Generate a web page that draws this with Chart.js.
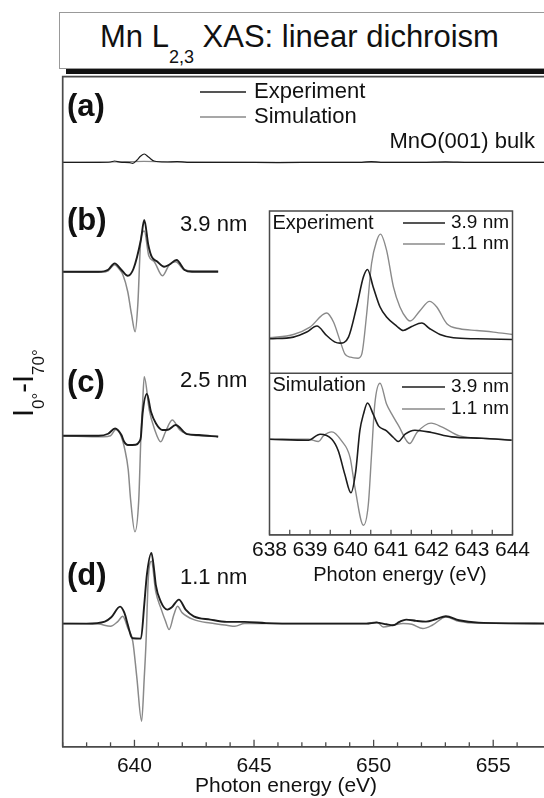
<!DOCTYPE html>
<html>
<head>
<meta charset="utf-8">
<script src="https://cdn.jsdelivr.net/npm/chart.js@4.4.1/dist/chart.umd.min.js"></script>
<style>
  html, body { margin: 0; padding: 0; background: #fff; overflow: hidden; width: 544px; height: 798px; }
  body { position: relative; font-family: "Liberation Sans", Arial, sans-serif; }
  canvas { position: absolute; left: 0; top: 0; }
  #titleBox { position: absolute; left: 59px; top: 12px; width: 600px; height: 55px; border: 1px solid #999; background: #fff; }
  #titleShadow { position: absolute; left: 66px; top: 69px; width: 600px; height: 5px; background: #111; }
  #title { position: absolute; left: 100px; top: 21px; font-size: 31px; line-height: 31px; color: #111; white-space: nowrap; }
  #title span { font-size: 18px; vertical-align: -16px; }
</style>
</head>
<body>
<canvas id="mainChart" width="560" height="798"></canvas>
<canvas id="insetChart" width="560" height="798"></canvas>
<div id="titleBox"></div>
<div id="titleShadow"></div>
<div id="title">Mn L<span>2,3</span> XAS: linear dichroism</div>
<script>
const FONT = '"Liberation Sans", Arial, Helvetica, sans-serif';
Chart.defaults.font.family = FONT;
Chart.defaults.color = '#111';

// main plot: photon energy (eV) / I0 - I70 (arb. units, relative to each panel's baseline)
// (a) MnO(001) bulk
const aExpE = [637, 638.5, 639.0, 639.17, 639.4, 639.8, 639.93, 640.1, 640.25, 640.41, 640.6, 640.82, 641.3, 641.78, 642.2, 644, 646, 648, 649.5, 649.9, 650.3, 652, 653, 654, 657.5];
const aExpI = [0, 0, 0.3, 1.3, 0.2, -0.3, -1, 2, 6, 8.3, 5, 1.3, 0.3, 0.7, 0, 0, -0.3, 0, 0, 0.7, 0, 0, 0.5, 0, 0];
const aSimE = [637, 639.2, 640.4, 641.8, 645, 650, 657.5];
const aSimI = [0, 0.3, 1, 0.3, 0, 0, 0];

// (b) 3.9 nm
const bExpE = [637, 638.5, 638.9, 639.17, 639.45, 639.72, 639.96, 640.27, 640.41, 640.58, 640.72, 640.96, 641.24, 641.45, 641.76, 642.1, 642.4, 643.5];
const bExpI = [0, 0, 2, 8.4, 2, -4, 3, 32, 51.7, 26.7, 15, 10, 5, 7, 11.7, 1.7, 0, 0];
const bSimE = [637, 638.6, 638.9, 639.17, 639.35, 639.52, 639.72, 639.88, 640.03, 640.14, 640.27, 640.41, 640.6, 640.83, 641.17, 641.45, 641.72, 642.1, 642.5, 643.5];
const bSimI = [0, -0.5, 1, 7, 3, -3.3, -20, -43, -60, -33, 33, 40.7, 16, 10, -4, 6.7, 10, 1.7, 0.7, 0.7];

// (c) 2.5 nm
const cExpE = [637, 638.5, 638.9, 639.19, 639.45, 639.57, 639.72, 640.05, 640.2, 640.27, 640.34, 640.52, 640.69, 640.9, 641.17, 641.4, 641.72, 642.2, 642.7, 643.5];
const cExpI = [0, 0, 2, 7.3, 1, -6, -9.3, -9, -6, -1, 22, 41.7, 24, 12.3, 5.7, 6, 10.7, 1.7, 0.7, -1];
const cSimE = [637, 638.7, 639.0, 639.22, 639.4, 639.6, 639.74, 639.84, 640.02, 640.18, 640.27, 640.34, 640.41, 640.62, 640.83, 641.1, 641.3, 641.58, 641.9, 642.4, 643.5];
const cSimI = [0, -1, 0, 6.3, 2, -14, -34, -64, -96, -64, -1, 32, 59, 25.7, 7.3, -6, 4, 15.7, 5.7, 0.7, -0.5];

// (d) 1.1 nm
const dExpE = [637, 638.0, 638.76, 639.03, 639.40, 639.58, 639.72, 639.86, 639.93, 640.27, 640.41, 640.52, 640.71, 640.83, 640.89, 641.1, 641.38, 641.55, 641.86, 642.14, 642.48, 643.17, 643.86, 644.6, 645.5, 647, 649.7, 650.13, 650.53, 650.81, 651.08, 651.36, 651.78, 652.19, 652.6, 653.02, 653.57, 654.39, 657.5];
const dExpI = [0, 0, 2, 6.3, 17, 10.7, -1, -12.7, -14.7, -15, 19, 49, 70.7, 52, 39, 22, 14, 16, 24, 14, 7.3, 4, 1.7, 1.7, 0.5, 0, 0, 1, -0.7, -1.7, 1.7, 4, 2.7, 2, 4.3, 7.3, 3.3, 1, 0];
const dSimE = [637, 638.5, 639.0, 639.3, 639.51, 639.72, 639.93, 640.1, 640.3, 640.41, 640.48, 640.58, 640.71, 640.89, 641.1, 641.3, 641.45, 641.65, 641.8, 642.0, 642.48, 643.17, 643.86, 644.2, 644.6, 645.5, 649.7, 650.13, 650.4, 650.81, 651.23, 651.6, 652.06, 652.45, 653.02, 653.57, 654.39, 657.5];
const dSimI = [0, -0.5, -2.7, 2, 7.3, -4.3, -17.7, -54, -97.7, -54, -21, 45.7, 62.3, 32, 15.7, 2.3, -6, 9, 17.3, 10.7, 4, 0.5, -1.7, -2.7, 0, 0, 0, 1.7, -3.3, -1.7, 0, -0.7, -5, -1.7, 6.7, 2.3, 0.3, 0];

// inset: experiment and simulation, 3.9 nm vs 1.1 nm
const insExp39E = [638.0, 638.59, 638.92, 639.17, 639.41, 639.62, 639.74, 639.95, 640.15, 640.32, 640.42, 640.56, 640.73, 640.89, 641.14, 641.30, 641.51, 641.76, 641.96, 642.21, 642.54, 643.12, 644.0];
const insExp39I = [0, 1.7, 6.7, 12.7, 3.3, -3.3, -4.3, 1.7, 31.7, 61.7, 69, 51.7, 31.7, 21.7, 12.7, 8.3, 12.3, 15.7, 10, 4.3, 1, 0, -0.7];
const insExp11E = [638.0, 638.59, 639.0, 639.41, 639.58, 639.74, 639.86, 640.0, 640.19, 640.28, 640.4, 640.52, 640.65, 640.74, 640.89, 641.06, 641.22, 641.39, 641.47, 641.72, 641.95, 642.13, 642.38, 642.7, 643.12, 643.53, 644.0];
const insExp11I = [1, 4.3, 11.7, 25.7, 16.7, -1.7, -15, -18.3, -19.3, -15, 25, 75, 98, 104.3, 88.3, 51.7, 31.7, 20, 17.7, 28.3, 37.3, 31.7, 15, 10, 8.3, 6.7, 4.3];
const insSim39E = [638.0, 638.96, 639.25, 639.54, 639.70, 639.86, 640.01, 640.13, 640.23, 640.32, 640.42, 640.56, 640.69, 640.89, 641.06, 641.18, 641.35, 641.59, 642.0, 642.5, 643.24, 643.98];
const insSim39I = [0, -1, 5, 0, -11.7, -35, -53.3, -31.7, 8.3, 25, 36, 25, 13.3, 8.3, 1.7, -2.3, 5, 9, 6.7, 2.3, 1, -1];
const insSim11E = [638.0, 638.96, 639.21, 639.33, 639.54, 639.78, 639.99, 640.11, 640.32, 640.44, 640.52, 640.60, 640.73, 640.89, 641.02, 641.19, 641.46, 641.64, 641.99, 642.28, 642.69, 643.35, 643.98];
const insSim11I = [0, 0, -2.3, 3.3, 7.3, -1.7, -18.3, -48.3, -85.7, -65, -15, 35, 55.7, 35, 25, 13.3, -4.3, 6.7, 16, 11.7, 3.3, 0.7, -0.7];

// vertical offsets of the stacked traces
const panelBase = { a: 584.4, b: 475, c: 311, d: 123.2 };
const insetBase = { exp: 195.2, sim: 95.2 };
const insetSplit = 160.8;

const BLACK = '#1c1c1c';
const GRAY = '#8a8a8a';

function trace(es, vals, base, color, width) {
    return {
        data: es.map((e, i) => ({ x: e, y: base + vals[i] })),
        borderColor: color,
        borderWidth: width,
        pointRadius: 0,
        cubicInterpolationMode: 'monotone',
        borderJoinStyle: 'round',
        fill: false
    };
}

function text(ctx, s, x, y, size, opts = {}) {
    ctx.font = (opts.bold ? 'bold ' : '') + size + 'px ' + FONT;
    ctx.textAlign = opts.align || 'left';
    ctx.textBaseline = 'middle';
    ctx.fillStyle = '#111';
    ctx.fillText(s, x, y);
}

function hline(ctx, x1, x2, y, color) {
    ctx.strokeStyle = color;
    ctx.lineWidth = 1.3;
    ctx.beginPath();
    ctx.moveTo(x1, y);
    ctx.lineTo(x2, y);
    ctx.stroke();
}

const mainDecor = {
    id: 'mainDecor',
    afterDraw(chart) {
        const { ctx, chartArea: a } = chart;
        const x = chart.scales.x;
        ctx.save();
        ctx.strokeStyle = '#4a4a4a';
        ctx.lineWidth = 1.7;
        ctx.beginPath();
        ctx.moveTo(a.left, a.bottom);
        ctx.lineTo(a.left, a.top);
        ctx.lineTo(chart.width, a.top);
        ctx.stroke();

        ctx.lineWidth = 1.3;
        x.ticks.forEach(t => {
            if (!Number.isInteger(t.value)) return;
            const px = x.getPixelForValue(t.value);
            const len = t.value % 5 === 0 ? 7 : 4.5;
            ctx.beginPath();
            ctx.moveTo(px, a.bottom);
            ctx.lineTo(px, a.bottom - len);
            ctx.stroke();
        });

        text(ctx, '(a)', 67, 107, 31, { bold: true });
        text(ctx, '(b)', 67, 221, 31, { bold: true });
        text(ctx, '(c)', 67, 383, 31, { bold: true });
        text(ctx, '(d)', 67, 576, 31, { bold: true });
        text(ctx, '3.9 nm', 180, 225, 22);
        text(ctx, '2.5 nm', 180, 381, 22);
        text(ctx, '1.1 nm', 180, 578, 22);
        text(ctx, 'MnO(001) bulk', 535, 142, 22, { align: 'right' });

        hline(ctx, 200, 246, 92, BLACK);
        hline(ctx, 200, 246, 117, GRAY);
        text(ctx, 'Experiment', 254, 92, 22);
        text(ctx, 'Simulation', 254, 117, 22);

        text(ctx, 'Photon energy (eV)', 286, 786, 21, { align: 'center' });

        // y title: I0°-I70°
        ctx.translate(33, 417);
        ctx.rotate(-Math.PI / 2);
        ctx.textBaseline = 'alphabetic';
        ctx.textAlign = 'left';
        ctx.fillStyle = '#111';
        let cx = 0;
        [['I', 29, 0], ['0°', 17, 11], ['-', 29, 0], ['I', 29, 0], ['70°', 17, 11]].forEach(([s, size, dy]) => {
            ctx.font = size + 'px ' + FONT;
            ctx.fillText(s, cx, dy);
            cx += ctx.measureText(s).width;
        });
        ctx.restore();
    }
};

const insetDecor = {
    id: 'insetDecor',
    beforeDatasetsDraw(chart) {
        const { ctx, chartArea: a } = chart;
        ctx.save();
        ctx.fillStyle = '#fff';
        ctx.fillRect(a.left, a.top, a.right - a.left, a.bottom - a.top);
        ctx.restore();
    },
    afterDraw(chart) {
        const { ctx, chartArea: a } = chart;
        const x = chart.scales.x, y = chart.scales.y;
        ctx.save();
        ctx.strokeStyle = '#4a4a4a';
        ctx.lineWidth = 1.5;
        ctx.strokeRect(a.left, a.top, a.right - a.left, a.bottom - a.top);
        const ys = y.getPixelForValue(insetSplit);
        ctx.beginPath();
        ctx.moveTo(a.left, ys);
        ctx.lineTo(a.right, ys);
        ctx.stroke();

        ctx.lineWidth = 1.2;
        x.ticks.forEach(t => {
            const px = x.getPixelForValue(t.value);
            ctx.beginPath();
            ctx.moveTo(px, a.bottom);
            ctx.lineTo(px, a.bottom - 5);
            ctx.stroke();
        });

        text(ctx, 'Experiment', a.left + 3, 223, 20);
        hline(ctx, 403, 445, 223, BLACK);
        hline(ctx, 403, 445, 244, GRAY);
        text(ctx, '3.9 nm', 451, 223, 19);
        text(ctx, '1.1 nm', 451, 244, 19);

        text(ctx, 'Simulation', a.left + 3, 385, 20);
        hline(ctx, 402, 445, 387, BLACK);
        hline(ctx, 402, 445, 409, GRAY);
        text(ctx, '3.9 nm', 451, 387, 19);
        text(ctx, '1.1 nm', 451, 409, 19);

        text(ctx, 'Photon energy (eV)', 400, 575, 20, { align: 'center' });
        ctx.restore();
    }
};

const mainChart = new Chart(document.getElementById('mainChart'), {
    type: 'line',
    data: {
        datasets: [
            trace(aExpE, aExpI, panelBase.a, BLACK, 1.2),
            trace(bExpE, bExpI, panelBase.b, BLACK, 1.9),
            trace(cExpE, cExpI, panelBase.c, BLACK, 1.9),
            trace(dExpE, dExpI, panelBase.d, BLACK, 1.9),
            trace(aSimE, aSimI, panelBase.a, GRAY, 1.2),
            trace(bSimE, bSimI, panelBase.b, GRAY, 1.5),
            trace(cSimE, cSimI, panelBase.c, GRAY, 1.5),
            trace(dSimE, dSimI, panelBase.d, GRAY, 1.5)
        ]
    },
    options: {
        responsive: false,
        animation: false,
        layout: { padding: { left: 62.7, top: 76.7, right: 1.8, bottom: 12 } },
        plugins: { legend: { display: false }, tooltip: { enabled: false } },
        scales: {
            x: {
                type: 'linear',
                min: 637,
                max: 657.5,
                grid: { display: false, drawTicks: false },
                border: { display: true, color: '#4a4a4a', width: 1.7 },
                ticks: {
                    stepSize: 1,
                    autoSkip: false,
                    maxRotation: 0,
                    padding: 7,
                    color: '#111',
                    font: { size: 21 },
                    callback: v => v % 5 === 0 ? String(v) : ''
                }
            },
            y: { display: false, min: 0, max: 670 }
        }
    },
    plugins: [mainDecor]
});

const insetChart = new Chart(document.getElementById('insetChart'), {
    type: 'line',
    data: {
        datasets: [
            trace(insExp39E, insExp39I, insetBase.exp, BLACK, 1.6),
            trace(insSim39E, insSim39I, insetBase.sim, BLACK, 1.6),
            trace(insExp11E, insExp11I, insetBase.exp, GRAY, 1.4),
            trace(insSim11E, insSim11I, insetBase.sim, GRAY, 1.4)
        ]
    },
    options: {
        responsive: false,
        animation: false,
        layout: { padding: { left: 269.5, top: 211, right: 47.5, bottom: 232 } },
        plugins: { legend: { display: false }, tooltip: { enabled: false } },
        scales: {
            x: {
                type: 'linear',
                min: 638,
                max: 644,
                grid: { display: false, drawTicks: false },
                border: { display: true, color: '#4a4a4a', width: 1.5 },
                ticks: {
                    stepSize: 0.5,
                    autoSkip: false,
                    maxRotation: 0,
                    padding: 3,
                    color: '#111',
                    font: { size: 21 },
                    callback: v => Number.isInteger(v) ? String(v) : ''
                }
            },
            y: { display: false, min: 0, max: 322.5 }
        }
    },
    plugins: [insetDecor]
});
</script>
</body>
</html>
